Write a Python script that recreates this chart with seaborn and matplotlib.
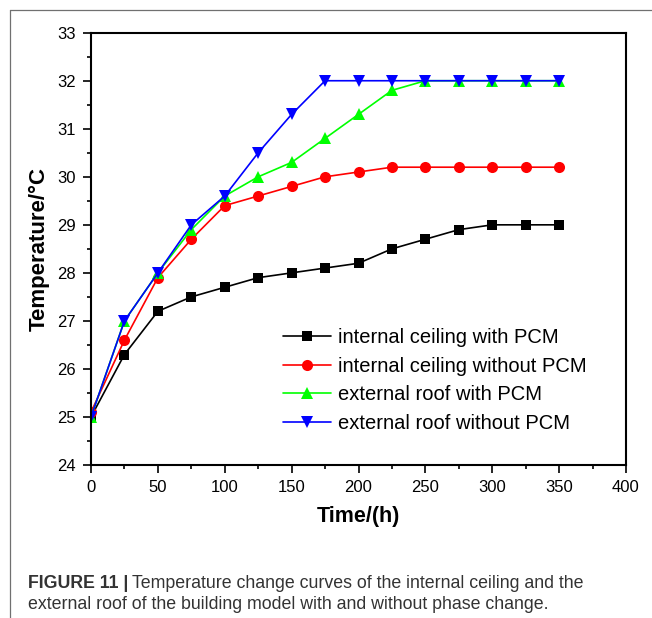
import numpy as np
import pandas as pd
import matplotlib
matplotlib.use('Agg')
import matplotlib.pyplot as plt
from matplotlib.ticker import MultipleLocator
from matplotlib.lines import Line2D
import seaborn as sns

# ---------------- data ----------------
time_h = [0, 25, 50, 75, 100, 125, 150, 175, 200, 225, 250, 275, 300, 325, 350]
internal_with_pcm = [25.0, 26.3, 27.2, 27.5, 27.7, 27.9, 28.0, 28.1, 28.2, 28.5, 28.7, 28.9, 29.0, 29.0, 29.0]
internal_without_pcm = [25.1, 26.6, 27.9, 28.7, 29.4, 29.6, 29.8, 30.0, 30.1, 30.2, 30.2, 30.2, 30.2, 30.2, 30.2]
external_with_pcm = [25.0, 27.0, 28.0, 28.9, 29.6, 30.0, 30.3, 30.8, 31.3, 31.8, 32.0, 32.0, 32.0, 32.0, 32.0]
external_without_pcm = [25.0, 27.0, 28.0, 29.0, 29.6, 30.5, 31.3, 32.0, 32.0, 32.0, 32.0, 32.0, 32.0, 32.0, 32.0]
series_labels = ["internal ceiling with PCM", "internal ceiling without PCM",
                 "external roof with PCM", "external roof without PCM"]
x_ticks = [0, 50, 100, 150, 200, 250, 300, 350, 400]
y_ticks = [24, 25, 26, 27, 28, 29, 30, 31, 32, 33]
caption_bold = "FIGURE 11 |"
caption_line1 = "Temperature change curves of the internal ceiling and the"
caption_line2 = "external roof of the building model with and without phase change."

series_values = [internal_with_pcm, internal_without_pcm, external_with_pcm, external_without_pcm]
colors = ["#000000", "#ff0000", "#00ff00", "#0000ff"]
markers = ["s", "o", "^", "v"]
msizes = [7, 8, 8.5, 8.5]

sns.set_theme(style="ticks")
plt.rcParams['font.family'] = ['Liberation Sans', 'DejaVu Sans']
plt.rcParams['text.color'] = 'black'
plt.rcParams['axes.labelcolor'] = 'black'
plt.rcParams['xtick.color'] = 'black'
plt.rcParams['ytick.color'] = 'black'

W, H = 652, 618
fig = plt.figure(figsize=(W / 100, H / 100), dpi=100)
ax = fig.add_axes([91 / W, 1 - 465 / H, (626 - 91) / W, (465 - 32.7) / H])

for lab, vals, c, m, ms in zip(series_labels, series_values, colors, markers, msizes):
    df = pd.DataFrame({"Time/(h)": time_h, "Temperature": vals})
    sns.lineplot(data=df, x="Time/(h)", y="Temperature", ax=ax, color=c, marker=m,
                 markersize=ms, markeredgewidth=0, linewidth=1.2, label=lab)

ax.set_xlim(0, 400)
ax.set_ylim(24, 33)
ax.set_xticks(x_ticks)
ax.set_yticks(y_ticks)
ax.xaxis.set_minor_locator(MultipleLocator(25))
ax.yaxis.set_minor_locator(MultipleLocator(0.5))
ax.tick_params(axis='both', which='major', direction='out', length=6, width=1.2,
               labelsize=12, pad=5, colors='black')
ax.tick_params(axis='both', which='minor', direction='out', length=3, width=1.2,
               colors='black')
ax.tick_params(top=False, right=False, which='both')
for s in ax.spines.values():
    s.set_visible(True)
    s.set_linewidth(1.5)
    s.set_color('black')

ax.set_xlabel("Time/(h)", fontsize=15.5, fontweight='bold', labelpad=8, color='black')
ax.set_ylabel("Temperature/°C", fontsize=16, fontweight='bold', labelpad=5, color='black')

leg = ax.legend(loc='center left', bbox_to_anchor=(283 / W, 1 - 380.4 / H),
                bbox_transform=fig.transFigure, frameon=False, fontsize=14.5,
                handlelength=2.4, handletextpad=0.35, labelspacing=0.48,
                borderpad=0, borderaxespad=0)
for t in leg.get_texts():
    t.set_color('black')

# outer frame lines (top and left)
fig.add_artist(Line2D([9.5 / W, 9.5 / W], [0, 1 - 10 / H], transform=fig.transFigure,
                      color='#707070', linewidth=0.9))
fig.add_artist(Line2D([9.5 / W, 1], [1 - 10 / H, 1 - 10 / H], transform=fig.transFigure,
                      color='#707070', linewidth=0.9))

# caption
cap_color = '#333333'
cap_family = ['Liberation Sans', 'DejaVu Sans']
fig.canvas.draw()
renderer = fig.canvas.get_renderer()
size = 12
t1 = fig.text(28 / W, 1 - 588 / H, caption_bold, fontsize=size, fontweight='bold',
              color=cap_color, va='baseline', ha='left', family=cap_family)
bb = t1.get_window_extent(renderer)
t2 = fig.text((bb.x1 + 4) / W, 1 - 588 / H, caption_line1, fontsize=size,
              color=cap_color, va='baseline', ha='left', family=cap_family)
bb2 = t2.get_window_extent(renderer)
scale = (585 - 28) / (bb2.x1 - 28)
size = size * scale
t1.set_fontsize(size)
bb = t1.get_window_extent(renderer)
t2.set_fontsize(size)
t2.set_x((bb.x1 + 4) / W)
fig.text(28 / W, 1 - 609 / H, caption_line2, fontsize=size, color=cap_color,
         va='baseline', ha='left', family=cap_family)

fig.savefig("out.png", dpi=100)
